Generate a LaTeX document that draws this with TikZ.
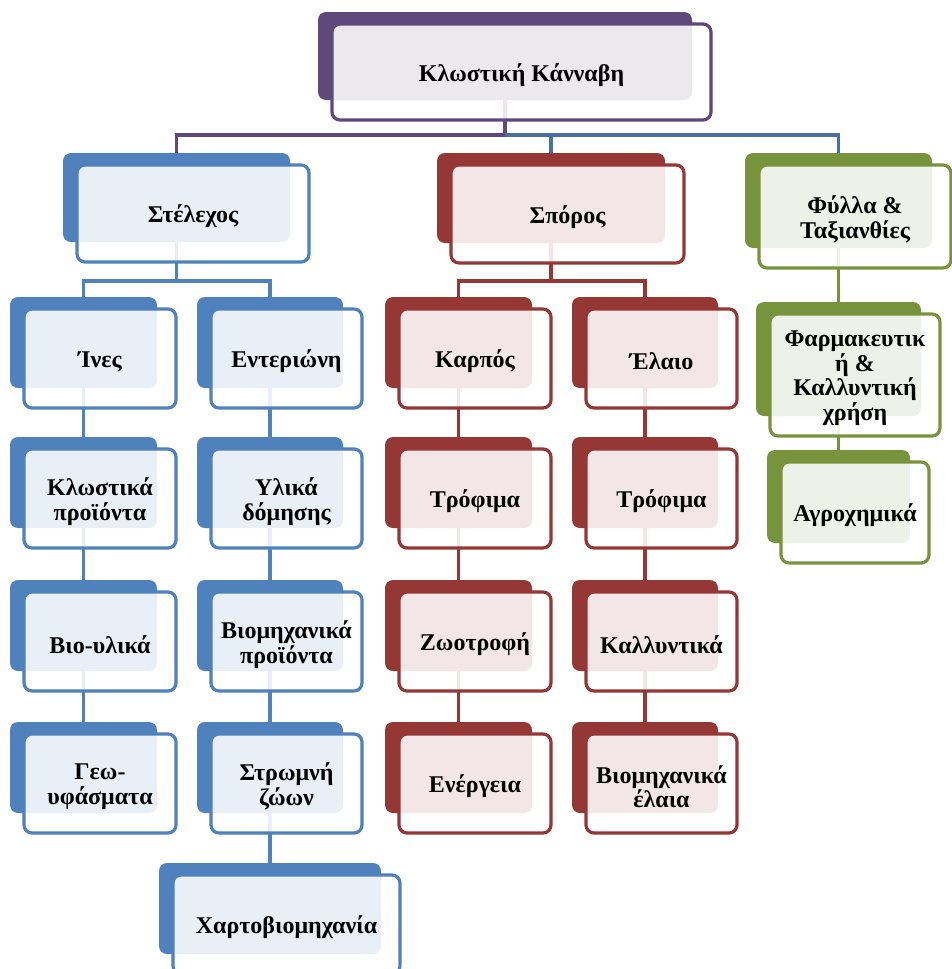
\documentclass[tikz,border=0pt]{standalone}
\usepackage{fontspec}
\setmainfont{Liberation Serif}
\pgfdeclarelayer{bg}
\pgfsetlayers{bg,main}
\definecolor{cpur}{HTML}{5F497A}
\definecolor{cblu}{HTML}{4F81BD}
\definecolor{cbus}{HTML}{4A6FA5}
\definecolor{cred}{HTML}{953735}
\definecolor{cgrn}{HTML}{77933C}
\tikzset{
  backbox/.style={fill=#1, rounded corners=8pt, inner sep=0pt, outer sep=0pt},
  frontbox/.style={draw=#1, line width=3.2pt, fill=white, fill opacity=0.88,
    rounded corners=8pt, inner sep=0pt, outer sep=0pt},
  boxtext/.style={inner sep=0pt, align=center, text=black,
    font=\bfseries\fontsize{24}{24.5}\selectfont},
  conn/.style={draw=#1, line width=3.4pt},
}
% name, colour, back L, T, R, B, text
\newcommand\tbox[7]{%
  \node[backbox=#2, minimum width={(#5-#3)*1pt}, minimum height={(#6-#4)*1pt}]
    (#1) at ({(#3+#5)/2},{(#4+#6)/2}) {};
  \node[frontbox=#2, minimum width={(#5-#3+5)*1pt}, minimum height={(#6-#4+8)*1pt}]
    (#1f) at ({(#3+#5)/2+16.5},{(#4+#6)/2+16}) {};
  \node[boxtext] (#1t) at ([yshift=-3pt]#1f.center) {#7};
}
\begin{document}
\begin{tikzpicture}[x=1pt,y=-1pt]
\useasboundingbox (0,0) rectangle (952,969);
\clip (0,0) rectangle (952,969);
% level 0 and 1
\tbox{R}{cpur}{318}{12}{692}{100}{Κλωστική Κάνναβη}
\tbox{S}{cblu}{63}{153}{290}{242}{Στέλεχος}
\tbox{P}{cred}{437}{153}{665}{243}{Σπόρος}
\tbox{F}{cgrn}{745}{153}{932}{248}{Φύλλα \&\\Ταξιανθίες}
% column A
\tbox{A1}{cblu}{10}{297}{157}{388}{Ίνες}
\tbox{A2}{cblu}{10}{437}{157}{528}{Κλωστικά\\προϊόντα}
\tbox{A3}{cblu}{10}{580}{157}{671}{Βιο-υλικά}
\tbox{A4}{cblu}{10}{722}{157}{813}{Γεω-\\υφάσματα}
% column B
\tbox{B1}{cblu}{197}{297}{343}{388}{Εντεριώνη}
\tbox{B2}{cblu}{197}{437}{343}{528}{Υλικά\\δόμησης}
\tbox{B3}{cblu}{197}{580}{343}{671}{Βιομηχανικά\\προϊόντα}
\tbox{B4}{cblu}{197}{722}{343}{813}{Στρωμνή\\ζώων}
\tbox{B5}{cblu}{159}{863}{381}{954}{Χαρτοβιομηχανία}
% column C
\tbox{C1}{cred}{385}{297}{532}{388}{Καρπός}
\tbox{C2}{cred}{385}{437}{532}{528}{Τρόφιμα}
\tbox{C3}{cred}{385}{580}{532}{671}{Ζωοτροφή}
\tbox{C4}{cred}{385}{722}{532}{813}{Ενέργεια}
% column D
\tbox{D1}{cred}{572}{297}{718}{388}{Έλαιο}
\tbox{D2}{cred}{572}{437}{718}{528}{Τρόφιμα}
\tbox{D3}{cred}{572}{580}{718}{671}{Καλλυντικά}
\tbox{D4}{cred}{572}{722}{718}{813}{Βιομηχανικά\\έλαια}
% column E
\tbox{E1}{cgrn}{756}{302}{921}{416}{Φαρμακευτικ\\ή \&\\Καλλυντική\\χρήση}
\tbox{E2}{cgrn}{767}{450}{910}{543}{Αγροχημικά}
% connectors
\begin{pgfonlayer}{bg}
\fill[white] (0,0) rectangle (952,969);
\coordinate (bus0) at (0,135);
\coordinate (busS) at (0,281);
\coordinate (busP) at (0,281);
\draw[conn=cpur] (R.center) -- (R |- bus0) -| (S.north);
\draw[conn=cbus] (R |- bus0) -| (F.north);
\draw[conn=cbus] (P |- bus0) -- (P.north);
\draw[conn=cblu] (S.center) -- (S |- busS) -| (A1.north);
\draw[conn=cblu] (S |- busS) -| (B1.north);
\draw[conn=cred] (P.center) -- (P |- busP) -| (C1.north);
\draw[conn=cred] (P |- busP) -| (D1.north);
\foreach \c/\cc in {A/cblu,C/cred,D/cred}{
  \draw[conn=\cc] (\c1.center) -- (\c2.north);
  \draw[conn=\cc] (\c2.center) -- (\c3.north);
  \draw[conn=\cc] (\c3.center) -- (\c4.north);
}
\draw[conn=cblu] (B1.center) -- (B2.north);
\draw[conn=cblu] (B2.center) -- (B3.north);
\draw[conn=cblu] (B3.center) -- (B4.north);
\draw[conn=cblu] (B4.center) -- (B5.north);
\draw[conn=cgrn] (F.center) -- (E1.north);
\draw[conn=cgrn] (E1.center) -- (E2.north);
\end{pgfonlayer}
\end{tikzpicture}
\end{document}
